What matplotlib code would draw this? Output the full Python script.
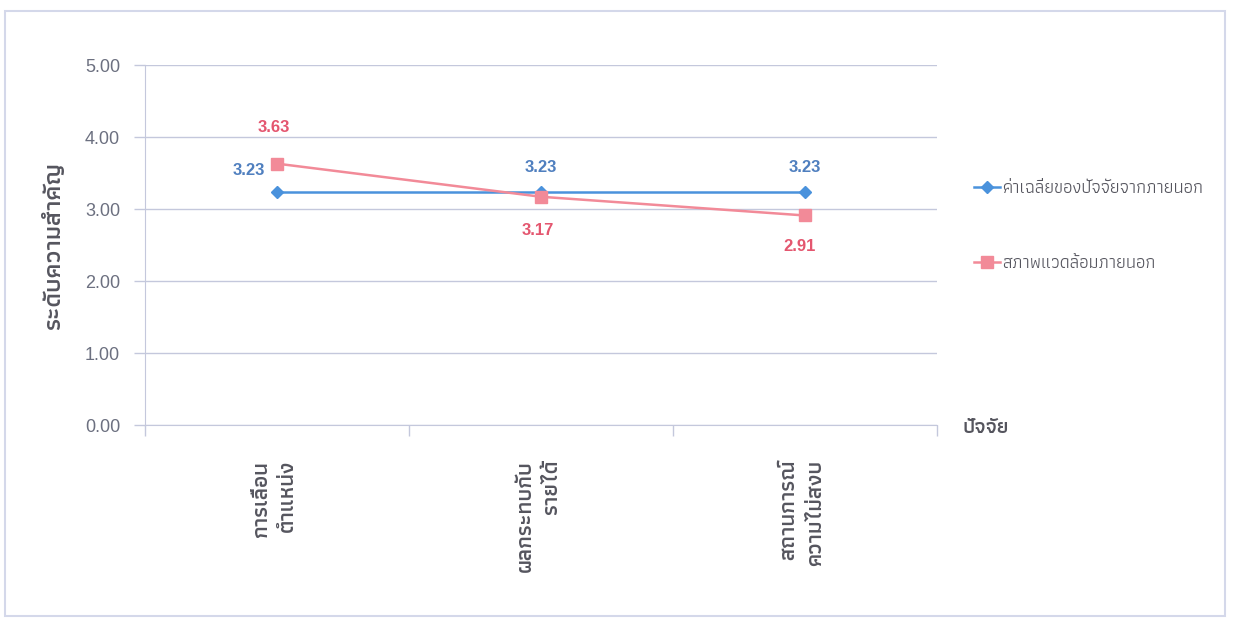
import matplotlib
matplotlib.use("Agg")
import matplotlib.pyplot as plt
from matplotlib import font_manager
from matplotlib.ft2font import FT2Font
from matplotlib.patches import Rectangle

# --- data -------------------------------------------------------------
categories = ["การเลื่อน\nตำแหน่ง", "ผลกระทบกับ\nรายได้", "สถานการณ์\nความไม่สงบ"]
series_names = ["ค่าเฉลี่ยของปัจจัยจากภายนอก", "สภาพแวดล้อมภายนอก"]
avg_values = [3.23, 3.23, 3.23]
env_values = [3.63, 3.17, 2.91]
y_ticks = [0, 1, 2, 3, 4, 5]
y_title = "ระดับความสำคัญ"
x_title = "ปัจจัย"

# --- Thai font lookup ---------------------------------------------------
all_fonts = font_manager.findSystemFonts()


def thai_font(preferred):
    by_name = {p.split("/")[-1]: p for p in all_fonts}
    for fname in preferred:
        if fname in by_name:
            return by_name[fname]
    for p in sorted(all_fonts):
        try:
            if FT2Font(p).get_char_index(0x0E01):
                return p
        except Exception:
            pass
    return None


REG = thai_font(["NotoSansThai-Regular.ttf", "NotoSansThaiUI-Regular.ttf",
                 "Athiti-Regular.ttf", "Loma.otf"])
BOLD = thai_font(["NotoSansThai-Bold.ttf", "NotoSansThaiUI-Bold.ttf",
                  "Athiti-SemiBold.ttf", "Loma-Bold.otf"])


def tfp(path, size):
    return font_manager.FontProperties(fname=path, size=size)


NUM_FAMILY = ["Liberation Sans Narrow", "Liberation Sans", "DejaVu Sans"]

BLUE = "#4a92dc"
BLUE_TXT = "#4f7fbf"
PINK = "#f28a98"
PINK_TXT = "#e4566f"
GRID = "#c4c8dc"
TICK_TXT = "#6c7080"
TITLE_TXT = "#55555e"

W, H = 1233, 618
fig = plt.figure(figsize=(W / 100, H / 100), dpi=100)
ax = fig.add_axes([145 / W, 1 - 425 / H, (937 - 145) / W, (425 - 65) / H])

x = list(range(len(categories)))
ax.plot(x, avg_values, color=BLUE, lw=1.8, marker="D", ms=6, label=series_names[0], zorder=3)
ax.plot(x, env_values, color=PINK, lw=1.8, marker="s", ms=8, label=series_names[1], zorder=3)

ax.set_xlim(-0.5, len(categories) - 0.5)
ax.set_ylim(0, 5)
ax.set_yticks(y_ticks)
ax.set_yticklabels([f"{v:.2f}" for v in y_ticks], color=TICK_TXT, fontsize=13,
                   family=NUM_FAMILY)
ax.yaxis.grid(True, color=GRID, lw=1.0)
ax.set_axisbelow(True)

# category boundaries as x ticks; labels sit at bin centres
ax.set_xticks([i - 0.5 for i in range(len(categories) + 1)])
ax.set_xticklabels([])
ax.tick_params(axis="x", direction="out", length=8, color=GRID, width=1.0)
ax.tick_params(axis="y", direction="out", length=8, color=GRID, width=1.0, pad=10)
for side in ["top", "right"]:
    ax.spines[side].set_visible(False)
ax.spines["left"].set_color(GRID)
ax.spines["bottom"].set_color(GRID)

for i, lab in enumerate(categories):
    ax.annotate(lab, xy=(i, 0), xycoords="data", xytext=(-2, -25), textcoords="offset points",
                rotation=90, ha="center", va="top", multialignment="right",
                fontproperties=tfp(BOLD, 16), color=TITLE_TXT, linespacing=1.5)

# value labels (offsets in points)
blue_offsets = [(-20, 16), (0, 18), (0, 18)]
pink_offsets = [(-2, 26), (-2, -24), (-4, -22)]
for i, v in enumerate(avg_values):
    dx, dy = blue_offsets[i]
    ax.annotate(f"{v:.2f}", xy=(i, v), xytext=(dx, dy), textcoords="offset points",
                ha="center", va="center", color=BLUE_TXT, fontsize=12, fontweight="bold",
                family=NUM_FAMILY)
for i, v in enumerate(env_values):
    dx, dy = pink_offsets[i]
    ax.annotate(f"{v:.2f}", xy=(i, v), xytext=(dx, dy), textcoords="offset points",
                ha="center", va="center", color=PINK_TXT, fontsize=12, fontweight="bold",
                family=NUM_FAMILY)

ax.set_ylabel(y_title, fontproperties=tfp(BOLD, 18), color=TITLE_TXT, labelpad=14)
fig.text(962 / W, 1 - 428 / H, x_title, ha="left", va="center",
         fontproperties=tfp(BOLD, 15), color=TITLE_TXT)

leg = fig.legend(loc="upper left", bbox_to_anchor=(958 / W, 1 - 164 / H), frameon=False,
                 prop=tfp(REG, 13), labelspacing=3.2, handlelength=1.4, handletextpad=0.15,
                 labelcolor=TITLE_TXT)

# outer chart border
fig.patches.append(Rectangle((5 / W, 1 - 616 / H), (1225 - 5) / W, (616 - 11) / H,
                             transform=fig.transFigure, fill=False, ec="#d4d8ea", lw=1.5))

fig.savefig("out.png", dpi=100)
